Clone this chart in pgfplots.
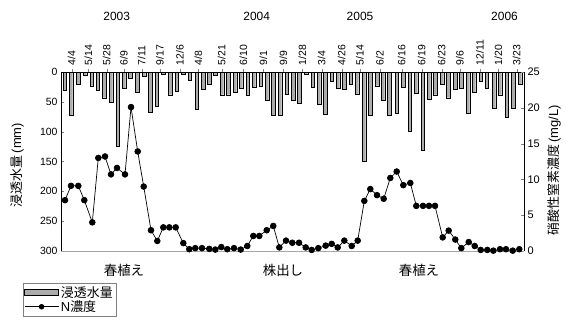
\documentclass[border=0pt]{standalone}
\usepackage{pgfplots}
\pgfplotsset{compat=1.18}
\usepackage{pgfplotstable}
\usepackage{fontspec}
\setmainfont{Liberation Sans}
\newfontfamily\jp{Noto Sans CJK JP}
\newfontfamily\ls{Liberation Sans}

\pgfplotstableread{
x mm
64.7 31
71 73
78.3 20
85 5
91.7 23
97.7 31
104.3 43
111 51
117.7 124
124 27
130.3 10
137.3 34
144 7
150.3 67
156.7 58
163.3 3
170.3 38
176.7 32
183.3 4
189.7 14
196.7 63
203.3 29
209.3 21
215.3 5
222 38
228.3 38
235 34
241 27
247.7 38
254 25
260.7 23
267 48
273.3 73
280 73
286.7 37
293.3 48
299.3 52
306 3
312.7 25
319 54
325.3 70
331.7 16
338 27
344.3 29
350.7 20
357 37
364 149
370.3 73
377.3 23
383 48
389.3 73
396.7 69
403.3 25
409.7 99
416 35
422.7 131
429 46
435.3 38
442 20
448.3 43
455.3 29
461.3 27
468 69
474 34
480.7 15
486.7 27
494 61
500 38
506.7 76
513.3 61
520 20
}\percol

\pgfplotstableread{
x n
65 7.1
71 9.1
78.3 9.1
84.3 7.1
92.3 4.0
98.3 13.0
105 13.2
111 10.7
117 11.6
125 10.7
131 20.1
137.7 13.9
143.7 9.0
151 2.9
157.3 1.4
163.3 3.3
169.3 3.3
175.7 3.3
183.3 1.1
189.3 0.25
195.3 0.4
202 0.4
209.3 0.3
215.3 0.2
221.3 0.55
227.3 0.25
234 0.4
240.7 0.2
247.3 0.7
253.3 2.1
259.3 2.1
266.7 2.9
273.3 3.5
279.3 0.5
286 1.45
292.3 1.15
299 1.15
305.7 0.5
311.7 0.15
318.3 0.4
325.7 0.75
331.7 1.0
337.7 0.5
344.3 1.45
351.7 0.7
357.7 1.45
364.3 7.0
370.3 8.65
377 7.8
383.7 7.3
390.3 10.2
396.7 11.1
403.3 9.2
410.3 9.5
416.3 6.3
423 6.3
429 6.3
435 6.3
442.7 1.9
448.7 2.85
455.3 1.6
461.3 0.4
468.7 1.25
474.7 0.7
480.7 0.15
487.3 0.15
493.3 0.05
500 0.25
506 0.25
512.7 0.05
519.3 0.25
}\nconc

\begin{document}
\begin{tikzpicture}
\path[use as bounding box] (0bp,0bp) rectangle (566bp,320bp);
\begin{axis}[
  at={(61bp,69bp)}, anchor=south west, scale only axis,
  width=463bp, height=179bp,
  xmin=61, xmax=524, ymin=0, ymax=300, y dir=reverse,
  axis x line*=top, axis y line*=left,
  axis line style={line width=0.9pt},
  xtick={71.7,88.3,106.7,124,141.7,160,180,198.3,221.7,243.3,263.3,283.3,302.5,321.7,341.7,360,380,401.7,421.7,441.7,460,480,498.3,516.7},
  xticklabels={4/4,5/14,5/28,6/9,7/11,9/17,12/6,4/8,5/21,6/10,9/1,9/9,1/28,3/4,4/26,5/14,6/2,6/16,6/19,6/23,9/6,12/11,1/20,3/23},
  xticklabel style={rotate=90, anchor=west, font=\fontsize{10.5}{10.5}\selectfont},
  xtick align=outside, major tick length=3bp,
  ytick={0,50,...,300}, ytick align=inside,
  yticklabel style={font=\fontsize{10.5}{10.5}\selectfont},
  /pgf/number format/assume math mode=true,
  clip=false,
]
\addplot[ybar, bar width=3.4, fill=gray!65, draw=black, line width=0.3pt] table[x=x,y=mm] {\percol};
\end{axis}
\begin{axis}[
  at={(61bp,69bp)}, anchor=south west, scale only axis,
  width=463bp, height=179bp,
  xmin=61, xmax=524, ymin=0, ymax=25,
  axis x line*=bottom, axis y line*=right,
  x axis line style={gray!70, line width=0.5pt},
  y axis line style={line width=0.9pt},
  xtick=\empty,
  ytick={0,5,...,25}, ytick align=inside, major tick length=3bp,
  yticklabel style={font=\fontsize{11}{11}\selectfont},
  /pgf/number format/assume math mode=true,
  clip=false,
  legend cell align=left,
  legend style={at={(-0.082,-0.179)}, anchor=north west, draw=gray, line width=0.4pt,
    font=\jp\fontsize{13}{13.5}\selectfont, inner sep=1pt, row sep=-2pt},
]
\addlegendimage{legend image code/.code={\draw[fill=gray!65,draw=black,line width=0.3pt] (0bp,-3.2bp) rectangle (34bp,3.2bp);}}
\addlegendentry{浸透水量}
\addplot[black, line width=0.7pt, mark=*, mark size=2.9pt,
  legend image code/.code={\draw[black, line width=0.7pt, mark=*, mark size=2.4pt, mark repeat=2, mark phase=2] plot coordinates {(0bp,0bp) (17bp,0bp) (34bp,0bp)};}]
  table[x=x,y=n] {\nconc};
\addlegendentry{{\ls N}濃度}
\node[font=\fontsize{12}{12}\selectfont] at (axis cs:116.7,32.7) {2003};
\node[font=\fontsize{12}{12}\selectfont] at (axis cs:256.7,32.7) {2004};
\node[font=\fontsize{12}{12}\selectfont] at (axis cs:360,32.7) {2005};
\node[font=\fontsize{12}{12}\selectfont] at (axis cs:504.5,32.7) {2006};
\node[font=\jp\fontsize{13.5}{14}\selectfont] at (axis cs:124,-2.65) {春植え};
\node[font=\jp\fontsize{13.5}{14}\selectfont] at (axis cs:283,-2.65) {株出し};
\node[font=\jp\fontsize{13.5}{14}\selectfont] at (axis cs:419,-2.65) {春植え};
\node[rotate=90, font=\jp\fontsize{13}{14}\selectfont] at (rel axis cs:-0.095,0.48) {浸透水量{\ls\,(mm)}};
\node[rotate=90, font=\jp\fontsize{13}{14}\selectfont] at (rel axis cs:1.065,0.45) {硝酸性窒素濃度{\ls\,(mg/L)}};
\end{axis}
\end{tikzpicture}
\end{document}
